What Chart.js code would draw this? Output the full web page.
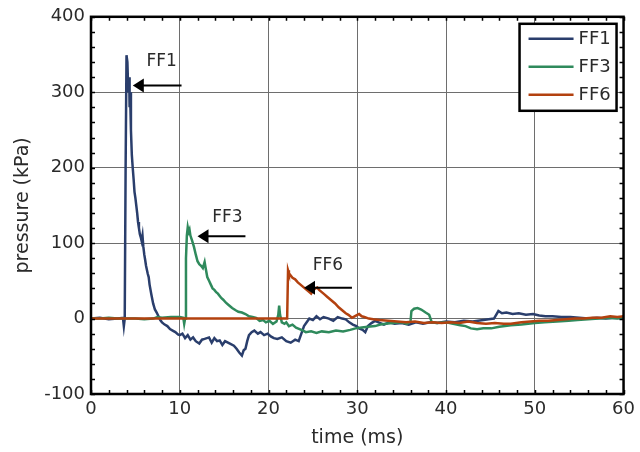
<!DOCTYPE html>
<html>
<head>
<meta charset="utf-8">
<script src="https://cdn.jsdelivr.net/npm/chart.js@4/dist/chart.umd.min.js"></script>
<style>
  html, body { margin: 0; padding: 0; background: #ffffff; }
  canvas { display: block; }
</style>
</head>
<body>
<canvas id="c" width="640" height="452"></canvas>
<script>
// ---- data (time in ms, pressure in kPa) ----
const seriesNames = ['FF1', 'FF3', 'FF6'];

const ff1Time = [0,1,2,3,3.6,3.7,3.8,3.9,4.0,4.1,4.2,4.3,4.35,4.4,4.5,4.6,4.7,4.8,4.9,5.0,5.1,5.2,5.3,5.4,5.5,5.6,5.7,5.8,5.9,6.0,6.1,6.2,6.4,6.5,6.6,6.8,7.0,7.2,7.4,7.6,7.8,8.0,8.3,8.6,8.9,9.2,9.5,9.8,10.0,10.3,10.6,10.9,11.2,11.5,11.8,12.2,12.5,12.8,13.3,13.6,13.9,14.2,14.5,14.8,15.1,15.6,16.1,16.4,16.7,17.0,17.2,17.4,17.6,17.8,18.1,18.4,18.8,19.1,19.5,19.9,20.3,20.6,21.0,21.5,22.0,22.5,23.0,23.4,23.7,24.0,24.3,24.6,25.0,25.4,25.8,26.2,26.8,27.3,27.8,28.3,28.7,29.1,29.5,29.9,30.2,30.6,30.9,31.2,31.6,32.0,32.4,33.0,33.6,34.2,35.0,35.8,36.6,37.4,38.2,39.0,40.0,41.0,42.0,43.0,43.6,44.2,44.8,45.4,45.9,46.3,46.8,47.5,48.2,49.0,49.8,50.5,51.2,52.0,53.0,54.0,55.0,56.0,57.0,58.0,59.0,60.0];
const ff1Pressure = [0,1,-1,0,1,-10,0,200,349,340,300,320,280,300,250,217,200,185,168,160,150,140,128,120,112,108,103,110,95,85,78,70,59,55,45,32,20,12,8,3,-2,-5,-8,-10,-14,-16,-18,-21,-22,-20,-26,-22,-28,-25,-30,-33,-28,-27,-25,-32,-26,-30,-29,-35,-30,-33,-36,-40,-45,-49,-42,-40,-30,-22,-18,-16,-20,-18,-22,-20,-24,-26,-27,-25,-30,-32,-28,-30,-20,-10,-5,0,-2,3,-1,2,0,-3,2,0,-1,-5,-8,-10,-13,-15,-18,-10,-6,-3,-5,-8,-5,-7,-6,-8,-5,-7,-5,-6,-4,-5,-3,-4,-3,-2,-1,0,10,7,8,6,7,5,6,4,3,3,2,2,1,0,1,0,1,0];

const ff3Time = [0,1,2,3,4,5,6,7,7.5,8,9,10,10.4,10.5,10.6,10.7,10.8,10.9,11.0,11.1,11.2,11.4,11.6,11.8,12.0,12.2,12.4,12.6,12.8,12.9,13.1,13.3,13.5,13.7,13.9,14.1,14.3,14.5,14.7,14.9,15.2,15.5,15.9,16.3,16.6,17.0,17.4,17.8,18.2,18.6,19.0,19.4,19.7,20.1,20.5,20.9,21.1,21.2,21.3,21.5,21.8,22.0,22.3,22.7,23.1,23.5,23.9,24.2,24.8,25.4,26.0,26.8,27.6,28.4,29.2,29.8,30.5,31.2,32.0,32.6,33.2,34.0,35.0,35.6,36.0,36.1,36.4,36.8,37.2,37.7,38.1,38.4,39.0,40.0,40.8,41.6,42.2,42.8,43.5,44.2,45.1,46.0,47.3,48.5,50.0,51.1,52.5,53.8,54.8,56.0,57.2,58.5,59.3,60];
const ff3Pressure = [0,0,1,0,0,0,-1,0,2,1,2,2,1,-7,0,80,110,121,115,118,110,103,95,85,76,72,70,67,75,68,55,50,45,40,38,35,33,30,27,25,21,18,14,11,9,8,6,3,2,1,-3,-2,-5,-3,-7,-4,5,17,5,-5,-7,-5,-10,-8,-12,-14,-16,-18,-17,-19,-17,-18,-16,-17,-15,-13,-12,-11,-10,-8,-7,-6,-5,-7,-4,10,13,14,12,8,5,-5,-6,-5,-7,-9,-10,-13,-14,-13,-13,-11,-9,-8,-6,-5,-4,-3,-2,-1,0,1,0,2];

const ff6Time = [0,22.0,22.1,22.2,22.3,22.5,22.7,23.0,23.3,23.6,23.8,24.1,24.4,24.6,24.8,25.0,25.3,25.5,25.7,26.0,26.3,26.6,27.1,27.5,27.9,28.3,28.7,29.0,29.4,29.7,30.0,30.2,30.5,30.8,31.3,31.8,32.5,33.5,34.5,35.5,36.5,37.5,38.5,39.5,40.5,41.5,42.5,43.5,44.5,45.5,46.5,47.3,48.5,49.5,50.5,51.5,52.5,53.5,54.5,55.5,56.5,57.5,58.5,59.3,60];
const ff6Pressure = [0,0,0,64,60,57,54,52,48,45,43,40,37,35,33,37,40,41,38,35,32,29,24,20,15,11,7,5,1,3,5,6,3,2,0,-1,-2,-3,-4,-5,-4,-6,-5,-6,-5,-6,-4,-6,-7,-6,-7,-7,-5,-4,-3,-3,-2,-1,0,0,1,1,3,2,3];

const seriesColors = ['#2a3e6c', '#2f8a5c', '#b3410f'];

const xTicks = [0, 10, 20, 30, 40, 50, 60];
const yTicks = [-100, 0, 100, 200, 300, 400];

// annotation callouts: label position and arrow (tail -> tip) in data units
const calloutLabels = ['FF1', 'FF3', 'FF6'];
const calloutLabelX = [7.96, 15.36, 26.69];
const calloutLabelY = [341, 134, 70];
const calloutArrowY = [309, 109, 41];
const calloutTailX = [10.2, 17.4, 29.4];
const calloutTipX = [4.71, 12.0, 24.0];

function pts(xs, ys) { return xs.map((x, i) => ({ x: x, y: ys[i] })); }

const FONT = '"DejaVu Sans", sans-serif';
const TXT = '#2a2a2a';

const framePlugin = {
  id: 'frame',
  afterDatasetsDraw(chart) {
    const { ctx, chartArea: a, scales } = chart;
    const xs = scales.x, ys = scales.y;
    ctx.save();
    // callouts
    ctx.fillStyle = TXT;
    ctx.strokeStyle = '#000';
    ctx.font = '17px ' + FONT;
    ctx.textAlign = 'center';
    ctx.textBaseline = 'middle';
    for (let i = 0; i < calloutLabels.length; i++) {
      const lx = xs.getPixelForValue(calloutLabelX[i]);
      const ly = ys.getPixelForValue(calloutLabelY[i]);
      ctx.fillText(calloutLabels[i], lx, ly);
      const ay = ys.getPixelForValue(calloutArrowY[i]);
      const tx = xs.getPixelForValue(calloutTailX[i]);
      const hx = xs.getPixelForValue(calloutTipX[i]);
      ctx.lineWidth = 2;
      ctx.beginPath();
      ctx.moveTo(tx, ay);
      ctx.lineTo(hx + 9, ay);
      ctx.stroke();
      ctx.fillStyle = '#000';
      ctx.beginPath();
      ctx.moveTo(hx, ay);
      ctx.lineTo(hx + 11, ay - 7);
      ctx.lineTo(hx + 11, ay + 7);
      ctx.closePath();
      ctx.fill();
      ctx.fillStyle = TXT;
    }
    // inward ticks
    ctx.strokeStyle = '#000';
    ctx.lineWidth = 1.5;
    ctx.beginPath();
    for (let v = 0; v <= 60; v += 2) {
      const px = Math.round(xs.getPixelForValue(v)) + 0.5;
      const len = 4;
      ctx.moveTo(px, a.bottom); ctx.lineTo(px, a.bottom - len);
      ctx.moveTo(px, a.top); ctx.lineTo(px, a.top + len);
    }
    for (let v = -100; v <= 400; v += 20) {
      const py = Math.round(ys.getPixelForValue(v)) + 0.5;
      const len = 4;
      ctx.moveTo(a.left, py); ctx.lineTo(a.left + len, py);
      ctx.moveTo(a.right, py); ctx.lineTo(a.right - len, py);
    }
    ctx.stroke();
    // frame
    ctx.lineWidth = 2.5;
    ctx.strokeRect(a.left, a.top, a.right - a.left, a.bottom - a.top);

    // legend box
    const bx = a.right - 104, by = a.top + 7, bw = 97, bh = 87;
    ctx.fillStyle = '#fff';
    ctx.fillRect(bx, by, bw, bh);
    ctx.lineWidth = 2.5;
    ctx.strokeStyle = '#000';
    ctx.strokeRect(bx, by, bw, bh);
    ctx.font = '18px ' + FONT;
    ctx.textAlign = 'left';
    ctx.textBaseline = 'middle';
    chart.data.datasets.forEach((ds, i) => {
      const yy = by + 15 + i * 28;
      ctx.strokeStyle = ds.borderColor;
      ctx.lineWidth = 2.5;
      ctx.beginPath();
      ctx.moveTo(bx + 9, yy);
      ctx.lineTo(bx + 54, yy);
      ctx.stroke();
      ctx.fillStyle = TXT;
      ctx.fillText(ds.label, bx + 59, yy + 1);
    });
    ctx.restore();
  }
};

new Chart(document.getElementById('c'), {
  type: 'scatter',
  data: {
    datasets: [
      { label: seriesNames[0], data: pts(ff1Time, ff1Pressure), borderColor: seriesColors[0], order: 3 },
      { label: seriesNames[1], data: pts(ff3Time, ff3Pressure), borderColor: seriesColors[1], order: 2 },
      { label: seriesNames[2], data: pts(ff6Time, ff6Pressure), borderColor: seriesColors[2], order: 1 }
    ].map(d => Object.assign(d, { showLine: true, pointRadius: 0, borderWidth: 2.5, tension: 0, fill: false, backgroundColor: d.borderColor }))
  },
  options: {
    responsive: false,
    devicePixelRatio: 1,
    animation: false,
    layout: { padding: { top: 14, right: 14, left: 0, bottom: 0 } },
    plugins: { legend: { display: false }, tooltip: { enabled: false } },
    scales: {
      x: {
        type: 'linear', min: 0, max: 60,
        afterBuildTicks: s => { s.ticks = xTicks.map(v => ({ value: v })); },
        afterFit: s => { s.height = 58; },
        ticks: { color: TXT, font: { family: FONT, size: 18 }, padding: 5, maxRotation: 0 },
        grid: { color: '#6e6e6e', lineWidth: 1, drawTicks: false },
        border: { display: false },
        title: { display: true, text: 'time (ms)', color: TXT, font: { family: FONT, size: 19 }, padding: { top: 0, bottom: 3 } }
      },
      y: {
        type: 'linear', min: -100, max: 400,
        afterBuildTicks: s => { s.ticks = yTicks.map(v => ({ value: v })); },
        afterFit: s => { s.width = 91; },
        ticks: { color: TXT, font: { family: FONT, size: 18 }, padding: 6 },
        grid: { color: '#6e6e6e', lineWidth: 1, drawTicks: false },
        border: { display: false },
        title: { display: true, text: 'pressure (kPa)', color: TXT, font: { family: FONT, size: 19 }, padding: { top: 12, bottom: 0 } }
      }
    }
  },
  plugins: [framePlugin]
});
</script>
</body>
</html>
